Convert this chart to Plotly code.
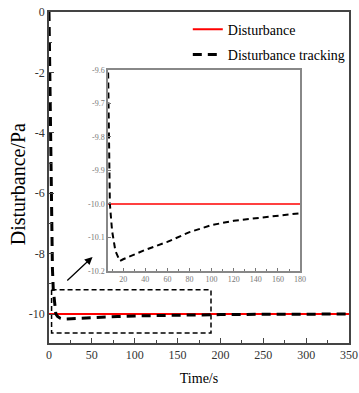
import plotly.graph_objects as go

# ---- data ----
time_s = [0, 1, 2, 3, 4, 5, 6, 7, 8, 10, 13, 17, 20, 40, 60, 80, 100, 120, 140, 160, 180, 200, 250, 300, 350]
tracking = [0, -2.0, -5.0, -7.2, -8.5, -9.2, -9.5, -9.75, -10.0, -10.08, -10.14, -10.17, -10.165,
            -10.137, -10.113, -10.084, -10.063, -10.05, -10.042, -10.036, -10.027, -10.02, -10.01, -10.005, -10.0]
dist_t = [0, 350]
disturbance = [-10, -10]

main_xticks = [0, 50, 100, 150, 200, 250, 300, 350]
main_yticks = [0, -2, -4, -6, -8, -10]
main_ytext = ["0", "-2", "-4", "-6", "-8", "-10"]
inset_xticks = [20, 40, 60, 80, 100, 120, 140, 160, 180]
inset_yticks = [-9.6, -9.7, -9.8, -9.9, -10.0, -10.1, -10.2]
inset_ytext = ["-9.6", "-9.7", "-9.8", "-9.9", "-10.0", "-10.1", "-10.2"]

# zoom box (data coords) and arrow
box_x = [3, 189, 189, 3, 3]
box_y = [-9.2, -9.2, -10.63, -10.63, -9.2]
arrow_tail = (19.6, -8.94)
arrow_head = (50.8, -8.11)

SERIF = "Liberation Serif"

fig = go.Figure()
fig.add_trace(go.Scatter(x=dist_t, y=disturbance, mode="lines", name="Disturbance", legendgroup="a",
                         line=dict(color="#ff0000", width=2.2), xaxis="x", yaxis="y"))
fig.add_trace(go.Scatter(x=time_s, y=tracking, mode="lines", name="Disturbance tracking", legendgroup="b",
                         line=dict(color="black", width=3, dash="9px,6px"), xaxis="x", yaxis="y"))
fig.add_trace(go.Scatter(x=box_x, y=box_y, mode="lines", showlegend=False,
                         line=dict(color="black", width=1.5, dash="5px,3px"), xaxis="x", yaxis="y"))
# inset
fig.add_trace(go.Scatter(x=dist_t, y=disturbance, mode="lines", showlegend=False,
                         line=dict(color="#ff0000", width=1.5), xaxis="x2", yaxis="y2"))
fig.add_trace(go.Scatter(x=time_s, y=tracking, mode="lines", showlegend=False,
                         line=dict(color="black", width=2, dash="6px,4px"), xaxis="x2", yaxis="y2"))

fig.add_annotation(x=arrow_head[0], y=arrow_head[1], ax=arrow_tail[0], ay=arrow_tail[1],
                   xref="x", yref="y", axref="x", ayref="y", showarrow=True,
                   arrowhead=2, arrowsize=1.2, arrowwidth=1.3, arrowcolor="black", text="")
# y axis title
fig.add_annotation(x=-0.103, y=0.48, xref="paper", yref="paper", xanchor="center", yanchor="middle",
                   text="Disturbance/Pa", textangle=-90, showarrow=False,
                   font=dict(family=SERIF, size=20, color="black"))

axis_common = dict(showline=True, linecolor="#444", linewidth=1.5, mirror=True, automargin=False,
                   showgrid=False, zeroline=False, ticks="inside", tickcolor="#444",
                   ticklabeloverflow="allow")

fig.update_layout(
    width=359, height=393,
    margin=dict(l=49, r=10, t=12, b=50, autoexpand=False),
    paper_bgcolor="white", plot_bgcolor="white",
    font=dict(family=SERIF, color="#333"),
    showlegend=True,
    legend=dict(x=1.006, y=0.995, xanchor="right", yanchor="top", bgcolor="rgba(0,0,0,0)",
                font=dict(family=SERIF, size=14, color="black"), tracegroupgap=4),
    xaxis=dict(range=[0, 350], tickvals=main_xticks, ticklen=5,
               minor=dict(ticks="inside", ticklen=3, dtick=25, tickcolor="#444"),
               tickfont=dict(family=SERIF, size=12, color="#333"),
               title=dict(text="Time/s", font=dict(family=SERIF, size=14, color="black"), standoff=12),
               **axis_common),
    yaxis=dict(range=[-10.96, 0], tickvals=main_yticks, ticktext=main_ytext, ticklen=5,
               minor=dict(ticks="inside", ticklen=3, dtick=1, tickcolor="#444"),
               tickfont=dict(family=SERIF, size=12, color="#333"),
               **axis_common),
    xaxis2=dict(domain=[0.197, 0.837], anchor="y2", range=[6.4, 180], tickvals=inset_xticks, ticklen=3,
                minor=dict(ticks="inside", ticklen=2, dtick=10, tickcolor="#777"),
                tickfont=dict(family=SERIF, size=8, color="#777"),
                showline=True, linecolor="#888", linewidth=1.5, mirror=True, showgrid=False,
                zeroline=False, ticks="inside", tickcolor="#777"),
    yaxis2=dict(domain=[0.2175, 0.825], anchor="x2", range=[-10.2, -9.6], tickvals=inset_yticks,
                ticktext=inset_ytext, ticklen=3,
                tickfont=dict(family=SERIF, size=8, color="#777"),
                showline=True, linecolor="#888", linewidth=1.5, mirror=True, showgrid=False,
                zeroline=False, ticks="inside", tickcolor="#777"),
)

fig.write_html("out.html")
